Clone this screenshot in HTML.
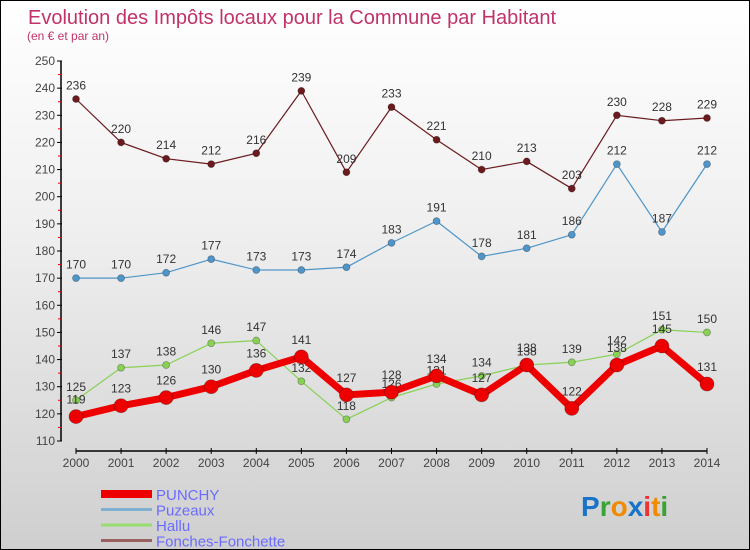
<!DOCTYPE html>
<html><head><meta charset="utf-8"><style>
body{margin:0}
#c{width:748px;height:548px;border:1px solid #000;background:linear-gradient(#fff,#f0f0f0 40%,#cfcfcf);position:relative;font-family:"Liberation Sans",sans-serif;overflow:hidden}
svg text{font-family:"Liberation Sans",sans-serif}
</style></head><body>
<div id="c">
<svg width="748" height="548" id="s">
<text x="27" y="23" font-size="20" fill="#c0336a">Evolution des Impôts locaux pour la Commune par Habitant</text>
<text x="26" y="39" font-size="12" fill="#c0336a">(en € et par an)</text>
<g id="g"></g>
<text x="580" y="515" font-size="28" font-weight="bold"><tspan fill="#1a73c8">P</tspan><tspan fill="#3aa335">r</tspan><tspan fill="#f08a00">o</tspan><tspan fill="#1a73c8">x</tspan><tspan fill="#e33">i</tspan><tspan fill="#f08a00">t</tspan><tspan fill="#3aa335">i</tspan></text>
</svg>
</div>
<script>
const years=[2000,2001,2002,2003,2004,2005,2006,2007,2008,2009,2010,2011,2012,2013,2014];
const punchy=[119,123,126,130,136,141,127,128,134,127,138,122,138,145,131];
const puzeaux=[170,170,172,177,173,173,174,183,191,178,181,186,212,187,212];
const hallu=[125,137,138,146,147,132,118,126,131,134,138,139,142,151,150];
const fonches=[236,220,214,212,216,239,209,233,221,210,213,203,230,228,229];
const yTicks=[110,120,130,140,150,160,170,180,190,200,210,220,230,240,250];
const NS='http://www.w3.org/2000/svg';
const g=document.getElementById('g');
const X=i=>75+i*(706-75)/(years.length-1);
const Y=v=>440-(v-110)*380/140;
function el(t,a,p){const e=document.createElementNS(NS,t);for(const k in a)e.setAttribute(k,a[k]);(p||g).appendChild(e);return e;}
let e=el('line',{x1:60,y1:60,x2:60,y2:440,stroke:'#000','stroke-width':1.5});


yTicks.forEach((v,i)=>{
 el('line',{x1:56,x2:61,y1:Y(v),y2:Y(v),stroke:'#000'});
 if(i<yTicks.length-1)el('line',{x1:57,x2:60,y1:Y(v+5),y2:Y(v+5),stroke:'#e00'});
 const t=el('text',{x:54,y:Y(v)+4,'text-anchor':'end','font-size':12,fill:'#444'});t.textContent=v;
 
 
});
e=el('line',{x1:75,y1:450,x2:706,y2:450,stroke:'#000','stroke-width':1.5});


years.forEach((y,i)=>{
 el('line',{x1:X(i),x2:X(i),y1:447,y2:453,stroke:'#000'});
 const t=el('text',{x:X(i),y:466,'text-anchor':'middle','font-size':12,fill:'#444'});t.textContent=y;
 
 
});
function series(d,col,w,r,name){
 const p=el('polyline',{points:d.map((v,i)=>X(i)+','+Y(v)).join(' '),fill:'none',stroke:col,'stroke-width':w,'stroke-linejoin':'round'});
 
 
 d.forEach((v,i)=>{
  const c=el('circle',{cx:X(i),cy:Y(v),r:r,fill:col,stroke:'rgba(0,0,0,0.3)','stroke-width':0.8});
  
  
  const t=el('text',{x:X(i),y:Y(v)-(r+6),'text-anchor':'middle','font-size':12,fill:'#333'});t.textContent=v;
  
  
 });
}
series(fonches,'#6b1a1e',1.2,3.5,'fonches');
series(puzeaux,'#4f95c8',1.2,3.5,'puzeaux');
series(hallu,'#88d155',1.2,3.5,'hallu');
series(punchy,'#ee0000',7,7,'punchy');
const leg=[['PUNCHY','#ee0000',8],['Puzeaux','#7fb0d0',3],['Hallu','#98dd70',3],['Fonches-Fonchette','#9a6060',3]];
leg.forEach((l,i)=>{
 const y=493+i*15.5;
 const ln=el('line',{x1:100,x2:151,y1:y,y2:y,stroke:l[1],'stroke-width':l[2]});
 
 
 const t=el('text',{x:155,y:y+6,'font-size':15,fill:'#6b6bff'});t.textContent=l[0];
 
 
});
</script>
</body></html>
